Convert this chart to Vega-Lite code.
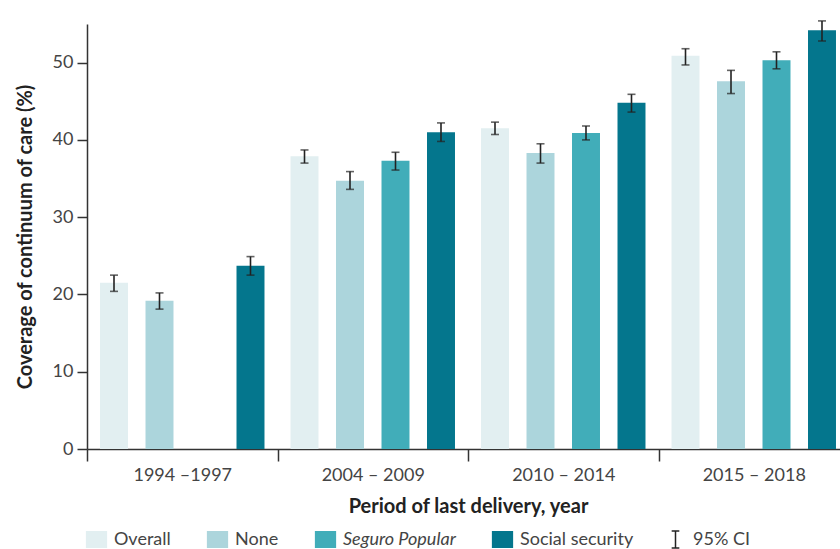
{
  "$schema": "https://vega.github.io/schema/vega-lite/v6.json",
  "width": 762,
  "height": 425,
  "autosize": {"type": "none"},
  "padding": {"top": 24, "left": 87, "bottom": 100, "right": -9},
  "background": "white",
  "config": {
    "font": "Lato",
    "view": {"stroke": null},
    "axis": {"domainColor": "#333", "tickColor": "#333", "labelColor": "#444", "titleColor": "#222", "domainWidth": 1.5, "tickWidth": 1.5, "grid": false, "labelFontSize": 18, "titleFontSize": 20, "titleFontWeight": "bold", "labelFont": "Lato", "titleFont": "Lato"},
    "axisQuantitative": {"tickCount": 11, "labelOverlap": false, "labelBound": false},
    "legend": {"labelFont": "Lato"}
  },
  "data": {
    "values": [
      {"period": "1994 –1997", "group": "Overall", "value": 21.5, "lo": 20.4, "hi": 22.5},
      {"period": "1994 –1997", "group": "None", "value": 19.2, "lo": 18.1, "hi": 20.2},
      {"period": "1994 –1997", "group": "Social security", "value": 23.7, "lo": 22.5, "hi": 24.9},
      {"period": "2004 – 2009", "group": "Overall", "value": 37.9, "lo": 37.0, "hi": 38.7},
      {"period": "2004 – 2009", "group": "None", "value": 34.7, "lo": 33.6, "hi": 35.9},
      {"period": "2004 – 2009", "group": "Seguro Popular", "value": 37.3, "lo": 36.1, "hi": 38.4},
      {"period": "2004 – 2009", "group": "Social security", "value": 41.0, "lo": 39.8, "hi": 42.2},
      {"period": "2010 – 2014", "group": "Overall", "value": 41.5, "lo": 40.7, "hi": 42.3},
      {"period": "2010 – 2014", "group": "None", "value": 38.3, "lo": 37.0, "hi": 39.5},
      {"period": "2010 – 2014", "group": "Seguro Popular", "value": 40.9, "lo": 40.0, "hi": 41.8},
      {"period": "2010 – 2014", "group": "Social security", "value": 44.8, "lo": 43.6, "hi": 45.9},
      {"period": "2015 – 2018", "group": "Overall", "value": 50.9, "lo": 49.7, "hi": 51.8},
      {"period": "2015 – 2018", "group": "None", "value": 47.6, "lo": 46.0, "hi": 49.0},
      {"period": "2015 – 2018", "group": "Seguro Popular", "value": 50.3, "lo": 49.2, "hi": 51.4},
      {"period": "2015 – 2018", "group": "Social security", "value": 54.2, "lo": 52.8, "hi": 55.4}
    ]
  },
  "encoding": {
    "x": {
      "field": "period", "type": "nominal",
      "scale": {"paddingInner": 0, "paddingOuter": 0},
      "axis": {"title": "Period of last delivery, year", "labelAngle": 0, "tickBand": "extent", "tickSize": 12, "labelPadding": 5, "titlePadding": 12}
    },
    "xOffset": {
      "field": "group", "type": "nominal",
      "scale": {"domain": ["Overall", "None", "Seguro Popular", "Social security"], "paddingInner": 0.385, "paddingOuter": 0.286}
    },
    "y": {
      "field": "value", "type": "quantitative",
      "scale": {"domain": [0, 55], "nice": false},
      "axis": {"title": "Coverage of continuum of care (%)", "values": [0, 5, 10, 15, 20, 25, 30, 35, 40, 45, 50, 55], "format": "d", "tickCount": 11, "labelOverlap": false, "tickSize": 10, "labelPadding": 4, "titlePadding": 17}
    }
  },
  "layer": [
    {
      "mark": {"type": "bar"},
      "encoding": {
        "color": {
          "field": "group", "type": "nominal",
          "scale": {"domain": ["Overall", "None", "Seguro Popular", "Social security", "95% CI"], "range": ["#e2eff1", "#acd5dc", "#41adb9", "#04768d", "#222222"]},
          "legend": {
            "title": null, "orient": "bottom", "direction": "horizontal",
            "labelFontSize": 18, "labelColor": "#444", "symbolSize": 289, "labelOffset": 8, "columnPadding": 32, "offset": 14,
            "encode": {
              "symbols": {"update": {
                "shape": {"signal": "datum.value === '95% CI' ? 'M0,-1V1M-0.45,-1H0.45M-0.45,1H0.45' : 'M-1.25,-1H1.25V1H-1.25Z'"},
                "stroke": {"signal": "datum.value === '95% CI' ? '#222' : 'transparent'"},
                "strokeWidth": {"value": 1.5}
              }},
              "labels": {"update": {
                "fontStyle": {"signal": "datum.value === 'Seguro Popular' ? 'italic' : 'normal'"}
              }}
            }
          }
        }
      }
    },
    {
      "mark": {"type": "errorbar", "color": "#222", "thickness": 1.6, "ticks": {"size": 8, "thickness": 1.6, "color": "#222"}},
      "encoding": {"y": {"field": "lo", "type": "quantitative"}, "y2": {"field": "hi"}}
    }
  ]
}
